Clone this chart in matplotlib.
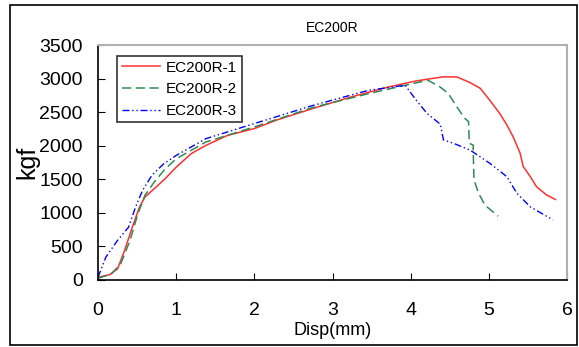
import matplotlib
matplotlib.use('Agg')
import matplotlib.pyplot as plt
from matplotlib.patches import Rectangle

# EC200R-1
disp1 = [0.0, 0.15, 0.25, 0.34, 0.44, 0.53, 0.60, 0.72, 0.86, 1.00, 1.19, 1.38, 1.66, 2.00,
         2.28, 2.75, 3.22, 3.70, 4.07, 4.41, 4.59, 4.76, 4.89, 5.01, 5.14, 5.23, 5.31, 5.40,
         5.44, 5.53, 5.61, 5.74, 5.85]
load1 = [40, 80, 165, 440, 790, 1085, 1235, 1360, 1510, 1680, 1880, 2005, 2155, 2255,
         2380, 2555, 2720, 2870, 2965, 3025, 3025, 2940, 2855, 2680, 2480, 2310, 2135, 1890,
         1690, 1540, 1390, 1265, 1200]

# EC200R-2
disp2 = [0.0, 0.17, 0.29, 0.41, 0.51, 0.60, 0.72, 0.86, 1.00, 1.19, 1.38, 2.00, 2.75, 3.46,
         3.93, 4.22, 4.37, 4.48, 4.59, 4.69, 4.74, 4.75, 4.80, 4.80, 4.81, 4.87, 4.95, 5.12]
load2 = [25, 90, 240, 590, 985, 1260, 1460, 1655, 1805, 1930, 2055, 2280, 2570, 2775,
         2900, 2975, 2880, 2780, 2580, 2410, 2360, 2035, 2010, 1935, 1490, 1290, 1115, 950]

# EC200R-3
disp3 = [0.0, 0.10, 0.25, 0.39, 0.48, 0.57, 0.69, 0.84, 1.00, 1.19, 1.38, 2.00, 2.75, 3.46,
         3.93, 4.07, 4.21, 4.38, 4.42, 4.55, 4.76, 5.01, 5.23, 5.36, 5.53, 5.82]
load3 = [40, 340, 590, 785, 1085, 1335, 1560, 1730, 1855, 1980, 2105, 2330, 2600, 2825,
         2900, 2680, 2480, 2320, 2085, 2035, 1935, 1740, 1540, 1290, 1090, 895]

plt.rcParams['font.family'] = ['Liberation Sans', 'DejaVu Sans']

fig = plt.figure(figsize=(5.79, 3.47), dpi=100)
ax = fig.add_axes([98 / 579, 67 / 347, 469 / 579, 235 / 347])

ax.plot(disp1, load1, color='#ff3030', lw=1.1, label='EC200R-1')
ax.plot(disp2, load2, color='#2e8b57', lw=1.1, ls=(0, (6, 3)), label='EC200R-2')
ax.plot(disp3, load3, color='#0000ff', lw=1.0, ls=(0, (5, 2, 1, 2, 1, 2)), label='EC200R-3')

ax.set_xlim(0, 6)
ax.set_ylim(0, 3500)
ax.set_xticks(range(0, 7))
ax.set_yticks(range(0, 3501, 500))
ax.tick_params(direction='in', length=5, labelsize=14, colors='black')
ax.tick_params(axis='y', pad=11)
ax.tick_params(axis='x', pad=16)
for s in ['top', 'right']:
    ax.spines[s].set_color('#b0b0b0')
    ax.spines[s].set_linewidth(1.5)
for s in ['left', 'bottom']:
    ax.spines[s].set_linewidth(1.2)

ax.set_xlabel('Disp(mm)', fontsize=13, labelpad=2)
ax.set_ylabel('kgf', fontsize=18, labelpad=0)
ax.set_title('EC200R', fontsize=10, pad=9)

leg = ax.legend(loc='upper left', bbox_to_anchor=(0.0405, 0.953), fontsize=11,
                frameon=True, fancybox=False, handlelength=2.5, handletextpad=0.4,
                borderpad=0.3, labelspacing=0.5, borderaxespad=0)
leg.get_frame().set_edgecolor('black')
leg.get_frame().set_linewidth(1.2)

fig.patches.append(Rectangle((10 / 579, 2 / 347), 567 / 579, 340 / 347,
                             transform=fig.transFigure, fill=False,
                             edgecolor='black', lw=1.2))

fig.savefig('out.png', dpi=100)
